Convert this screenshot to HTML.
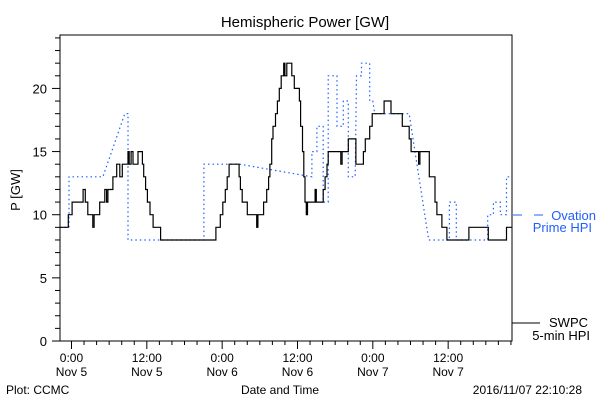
<!DOCTYPE html>
<html><head><meta charset="utf-8"><style>
body{margin:0;background:#fff}
svg{display:block;font-family:"Liberation Sans",sans-serif}
</style></head><body>
<svg id="chart" width="600" height="400" viewBox="0 0 600 400">
<rect width="600" height="400" fill="#fff"/>
<text x="305" y="27" font-size="15" text-anchor="middle">Hemispheric Power [GW]</text>
<text transform="translate(20,190) rotate(-90)" font-size="13" text-anchor="middle">P [GW]</text>
<g id="axes"></g>
<g id="series"></g>
<rect x="60" y="35" width="452" height="306" fill="none" stroke="#000" stroke-width="1"/>
<g>
<line x1="513" y1="215" x2="545" y2="215" stroke="#1f5fff" stroke-dasharray="9,12"/>
<text x="596" y="220" font-size="13" fill="#1f5fff" text-anchor="end">Ovation</text>
<text x="592" y="232" font-size="13" fill="#1f5fff" text-anchor="end">Prime HPI</text>
</g>
<g>
<line x1="512" y1="323" x2="540" y2="323" stroke="#000"/>
<text x="588" y="327" font-size="13" text-anchor="end">SWPC</text>
<text x="590" y="340" font-size="13" text-anchor="end">5-min HPI</text>
</g>
<text x="6" y="394" font-size="12">Plot: CCMC</text>
<text x="280" y="394" font-size="12" text-anchor="middle">Date and Time</text>
<text x="582" y="394" font-size="12" text-anchor="end">2016/11/07 22:10:28</text>
</svg>
<script>
// hours relative to 2016-11-05 00:00
const yTicks=[0,5,10,15,20];
const xTickHours=[0,12,24,36,48,60];
const xTickTime=["0:00","12:00","0:00","12:00","0:00","12:00"];
const xTickDate=["Nov 5","Nov 5","Nov 6","Nov 6","Nov 7","Nov 7"];
// SWPC step series: value held from hour until next hour
const swpcHours=[-1.83,-0.5,0.1,1.85,2.2,2.6,3.4,3.6,4.5,5.3,5.6,5.8,6.6,7.2,7.7,8.1,9.0,9.2,9.5,9.8,10.6,11.3,11.5,11.8,12.1,12.5,13.0,14.2,23.0,23.7,24.1,24.5,24.8,25.1,26.7,26.9,27.2,28.0,29.5,29.7,30.6,31.1,31.4,31.6,31.9,32.1,32.5,32.8,33.1,33.4,33.8,34.0,34.3,35.1,35.5,36.3,36.5,36.8,37.0,37.2,37.4,37.6,38.8,39.0,40.1,40.4,40.7,40.9,42.9,43.1,44.1,45.3,46.5,46.8,47.5,47.9,49.8,50.9,52.7,53.8,54.1,55.3,55.5,57.0,57.9,58.2,59.0,59.8,63.3,66.4,69.3];
const swpcValues=[9,10,11,12,11,10,9,10,11,12,11,12,13,14,13,14,15,14,15,14,15,14,13,12,11,10,9,8,9,10,11,12,13,14,13,12,11,10,9,10,11,12,13,14,16,17,18,19,20,21,22,21,22,21,20,19,17,15,13,11,10,11,12,11,12,13,14,15,14,15,16,14,15,16,17,18,19,18,17,16,15,14,15,13,11,10,9,8,9,8,9];
// Ovation points, linearly connected
const ovHours=[-1.83,-0.4,-0.4,5.0,8.5,9.0,9.0,21.1,21.1,26.8,38.3,38.3,39.1,39.1,40.1,40.1,40.9,40.9,42.3,42.3,43.3,43.3,44.1,44.1,45.2,45.4,46.2,46.2,47.5,47.5,48.0,48.3,53.8,54.4,56.9,60.2,60.2,61.3,61.3,66.3,66.3,67.2,67.2,68.3,68.3,69.3,69.3,70.17];
const ovValues=[9,9,13,13,18,18,8,8,14,14,13,15,15,17,17,11,11,21,21,17,17,19,19,13,13,21,21,22,22,19,19,18,18,16,8,8,11,11,8,8,10,10,11,11,10,10,13,13];
const X0=60,X1=512,Y0=341,Y1=35,HMIN=-1.83,HMAX=70.17,VMAX=24.23;
const xs=h=>X0+(h-HMIN)/(HMAX-HMIN)*(X1-X0);
const ys=v=>Y0-v/VMAX*(Y0-Y1);
const NS="http://www.w3.org/2000/svg";
const axes=document.getElementById('axes'),series=document.getElementById('series');
function mk(tag,attrs,parent){const e=document.createElementNS(NS,tag);for(const k in attrs)e.setAttribute(k,attrs[k]);parent.appendChild(e);return e;}
for(let v=0;v<=24;v++){
  const major=v%5===0;
  const t=mk('line',{x1:60-(major?8:5),x2:60,y1:ys(v),y2:ys(v),stroke:'#000'},axes);
  
  
}
yTicks.forEach(v=>{
  const t=mk('text',{x:47,y:ys(v)+5,'font-size':13,'text-anchor':'end'},axes);
  t.textContent=v;
  
  
});
for(let h=0;h<=70;h+=2){
  const major=h%12===0;
  const t=mk('line',{x1:xs(h),x2:xs(h),y1:341,y2:341+(major?8:4),stroke:'#000'},axes);
  
  
}
xTickHours.forEach((h,i)=>{
  const a=mk('text',{x:xs(h),y:362,'font-size':12,'text-anchor':'middle'},axes);
  a.textContent=xTickTime[i];
  
  
  const b=mk('text',{x:xs(h),y:376,'font-size':12,'text-anchor':'middle'},axes);
  b.textContent=xTickDate[i];
  
  
});
let d='';
ovHours.forEach((h,i)=>{d+=(i?'L':'M')+xs(h).toFixed(1)+' '+ys(ovValues[i]).toFixed(1);});
const ov=mk('path',{d:d,fill:'none',stroke:'#1f5fff','stroke-width':1.2,'stroke-dasharray':'1.5,3'},series);


d='';
const n=Math.min(swpcHours.length,swpcValues.length);
for(let i=0;i<n;i++){
  const x=xs(swpcHours[i]).toFixed(1),y=ys(swpcValues[i]).toFixed(1);
  d+=(i?'L'+x+' '+ys(swpcValues[i-1]).toFixed(1)+'L':'M')+x+' '+y;
}
d+='L'+xs(HMAX).toFixed(1)+' '+ys(swpcValues[n-1]).toFixed(1);
const sw=mk('path',{d:d,fill:'none',stroke:'#000','stroke-width':1.2},series);


</script>
</body></html>
